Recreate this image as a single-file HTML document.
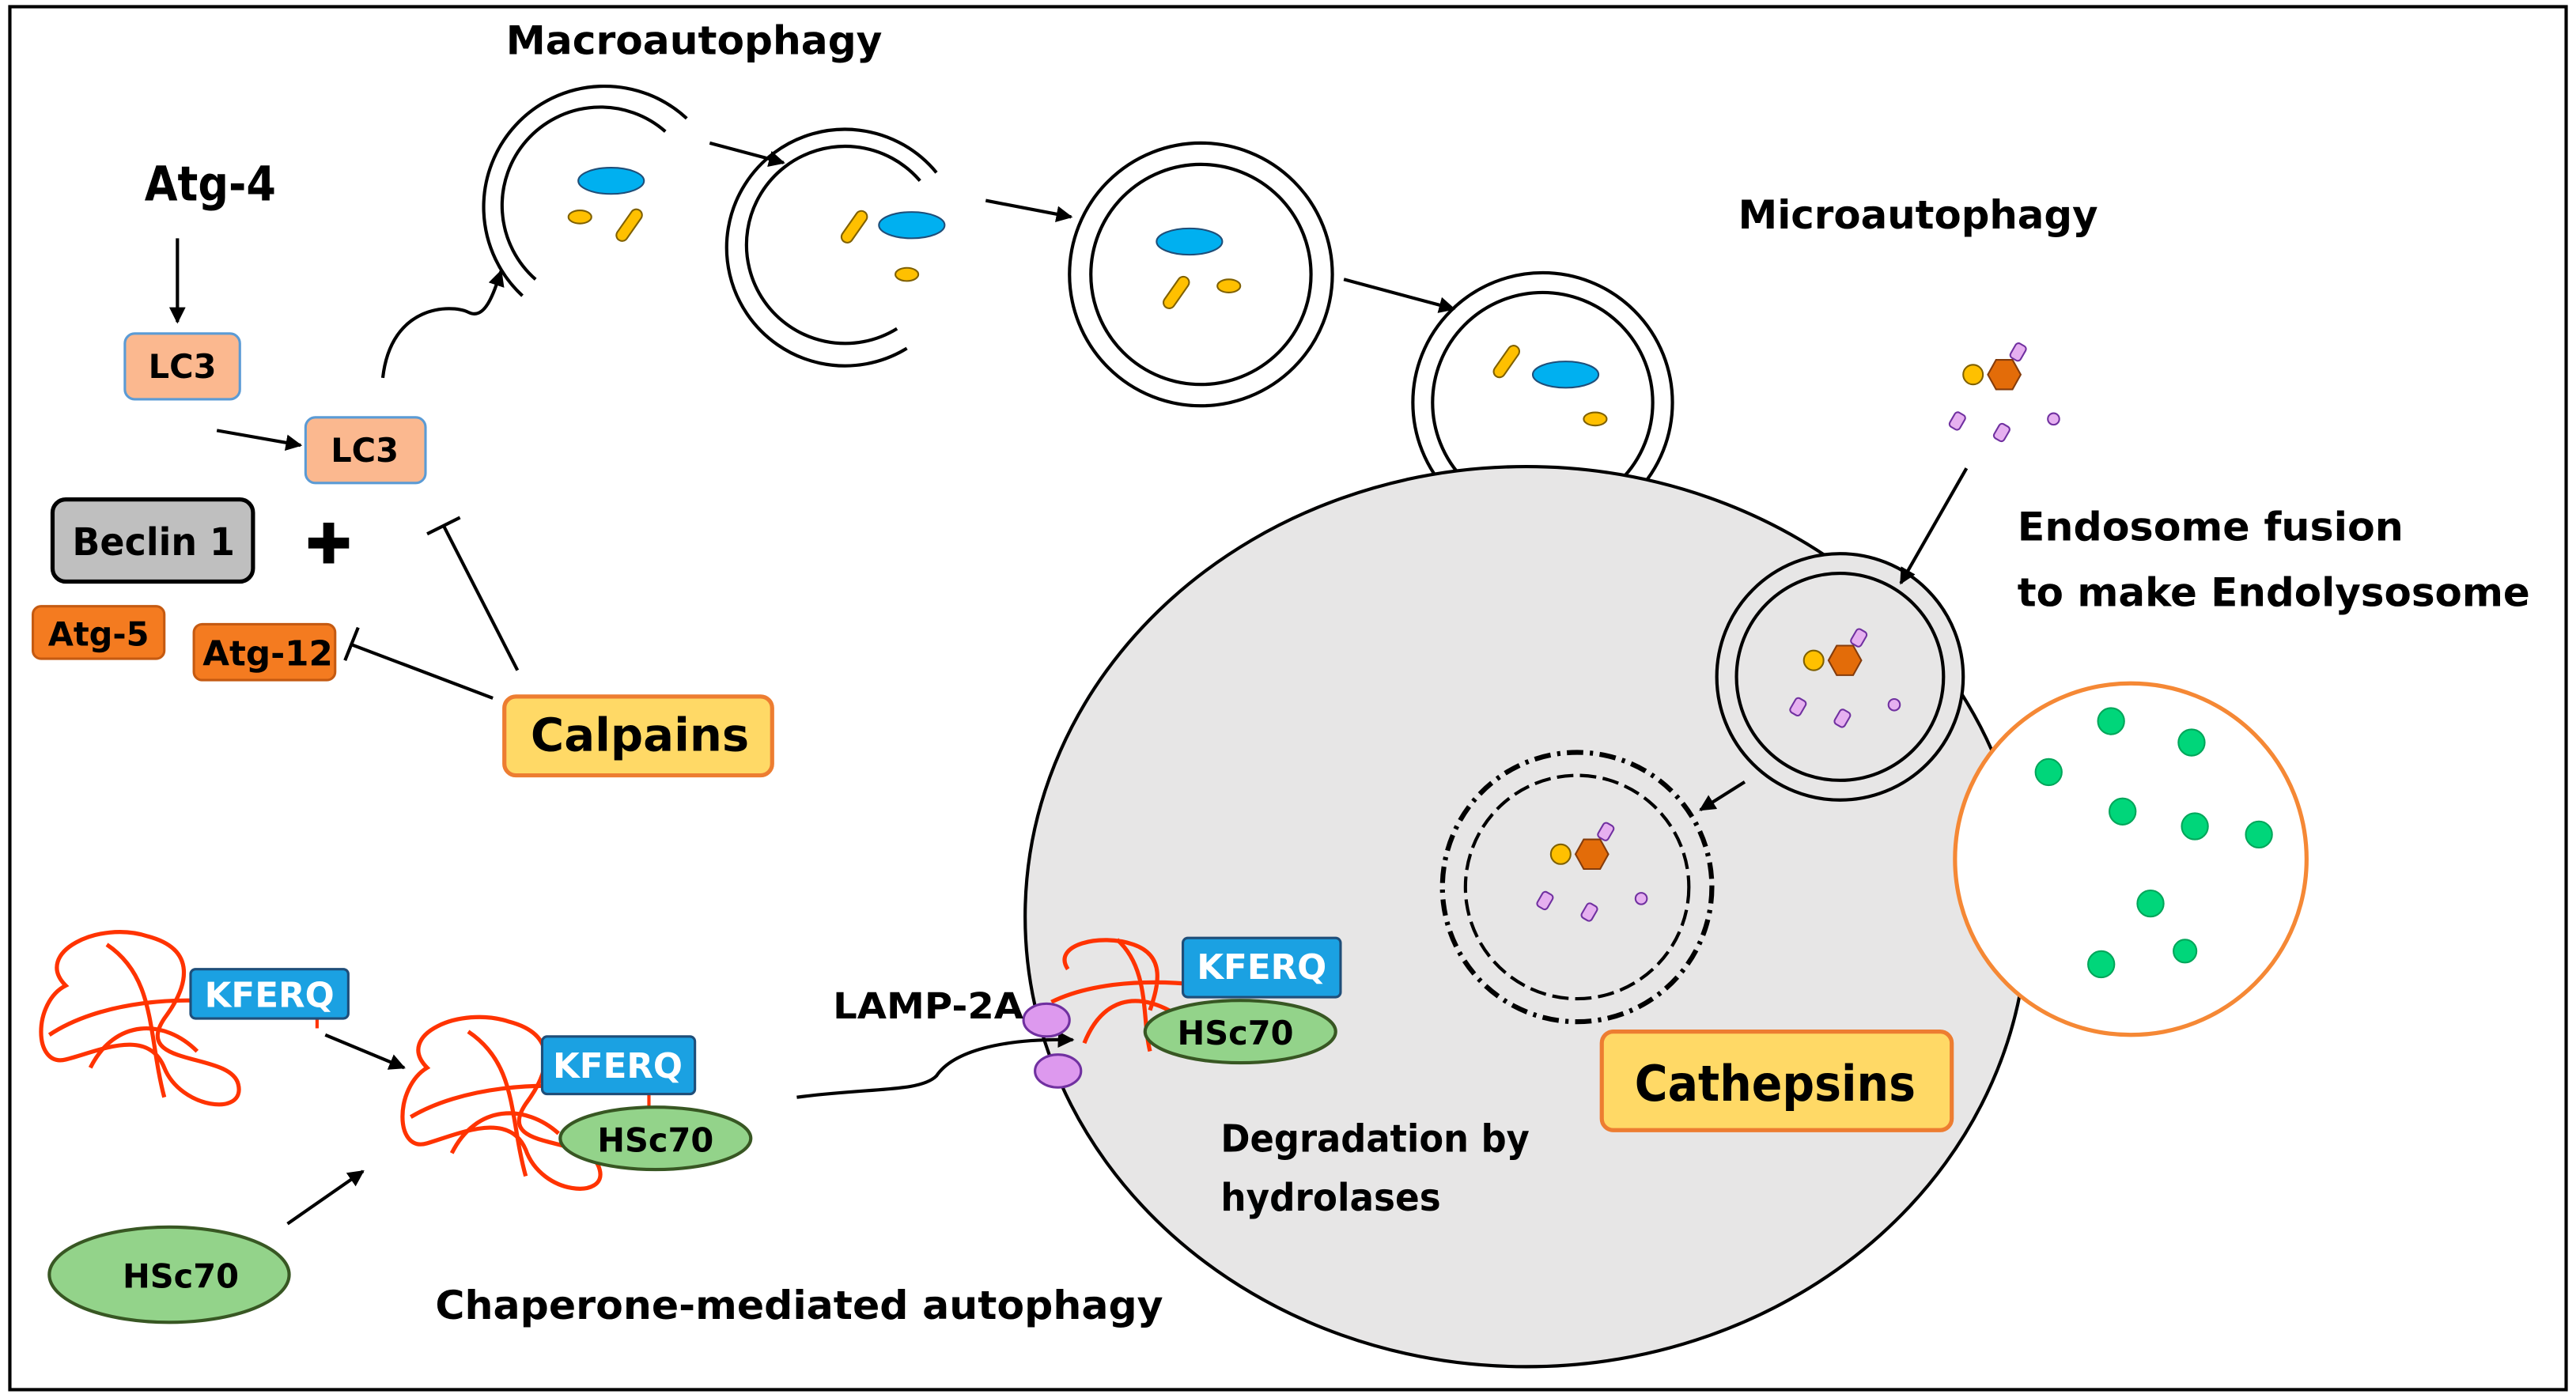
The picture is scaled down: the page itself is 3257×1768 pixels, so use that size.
<!DOCTYPE html>
<html><head><meta charset="utf-8"><style>
html,body{margin:0;padding:0;background:#fff}
svg{display:block}
text{font-family:"DejaVu Sans","Liberation Sans",sans-serif;font-weight:bold}
</style></head><body>
<svg width="3257" height="1768" viewBox="0 0 1568 851" xmlns="http://www.w3.org/2000/svg">
<defs>
<marker id="ar" markerWidth="10" markerHeight="10" refX="9" refY="5" orient="auto" markerUnits="userSpaceOnUse"><path d="M0,0 L10,5 L0,10 z" fill="#000"/></marker>
<g id="pg">
<circle cx="0" cy="0" r="6" fill="#ffc000" stroke="#7f6000"/>
<polygon points="14,2 24,2 29,11 24,20 14,20 9,11" transform="translate(0,-11)" fill="#e36c09" stroke="#843c0c"/>
<rect x="-3" y="-5" width="7" height="10" rx="2" fill="#e6b0f0" stroke="#7030a0" transform="translate(27,-14) rotate(30)"/>
<rect x="-3" y="-5" width="7" height="10" rx="2" fill="#e6b0f0" stroke="#7030a0" transform="translate(-10,28) rotate(30)"/>
<rect x="-3" y="-5" width="7" height="10" rx="2" fill="#e6b0f0" stroke="#7030a0" transform="translate(17,35) rotate(30)"/>
<circle cx="49" cy="27" r="3.5" fill="#e6b0f0" stroke="#7030a0"/>
</g>
</defs>
<rect x="6" y="4" width="1556" height="842" fill="#fff" stroke="#000" stroke-width="2"/>

<text x="308" y="33" font-size="24" textLength="229" lengthAdjust="spacingAndGlyphs">Macroautophagy</text>
<text x="88" y="122" font-size="29" textLength="80" lengthAdjust="spacingAndGlyphs">Atg-4</text>
<line x1="108" y1="145" x2="108" y2="196" stroke="#000" stroke-width="2" marker-end="url(#ar)"/>
<rect x="76" y="203" width="70" height="40" rx="6" fill="#fbb88f" stroke="#5b9bd5" stroke-width="1.5"/>
<text x="111" y="230" font-size="20" text-anchor="middle" font-weight="normal">LC3</text>
<line x1="132" y1="262" x2="183" y2="271" stroke="#000" stroke-width="2" marker-end="url(#ar)"/>
<rect x="186" y="254" width="73" height="40" rx="6" fill="#fbb88f" stroke="#5b9bd5" stroke-width="1.5"/>
<text x="222" y="281" font-size="20" text-anchor="middle" font-weight="normal">LC3</text>
<rect x="32" y="304" width="122" height="50" rx="8" fill="#bfbfbf" stroke="#000" stroke-width="2.5"/>
<text x="44" y="338" font-size="23" textLength="99" lengthAdjust="spacingAndGlyphs">Beclin 1</text>
<text x="200" y="343" font-size="34" text-anchor="middle">✚</text>
<rect x="20" y="369" width="80" height="32" rx="5" fill="#f47b20" stroke="#c55a11" stroke-width="1.5"/>
<text x="60" y="393" font-size="20" text-anchor="middle">Atg-5</text>
<rect x="118" y="380" width="86" height="34" rx="5" fill="#f47b20" stroke="#c55a11" stroke-width="1.5"/>
<text x="163" y="405" font-size="21" text-anchor="middle">Atg-12</text>
<line x1="315" y1="408" x2="270" y2="320" stroke="#000" stroke-width="2"/>
<line x1="260" y1="325" x2="280" y2="315" stroke="#000" stroke-width="2"/>
<line x1="300" y1="425" x2="213" y2="392" stroke="#000" stroke-width="2"/>
<line x1="218" y1="382" x2="210" y2="402" stroke="#000" stroke-width="2"/>
<rect x="307" y="424" width="163" height="48" rx="7" fill="#ffd966" stroke="#ed7d31" stroke-width="2.5"/>
<text x="323" y="457" font-size="28" textLength="133" lengthAdjust="spacingAndGlyphs">Calpains</text>
<path d="M233,230 C238,185 275,185 285,190 C295,195 300,180 305,165" fill="none" stroke="#000" stroke-width="2" marker-end="url(#ar)"/>

<g fill="none" stroke="#000" stroke-width="2">
<path d="M418,72 A62,62 0 1 0 318,180"/>
<path d="M405,80 A52,52 0 1 0 326,170"/>
<path d="M570,105 A72,72 0 1 0 552,212"/>
<path d="M560,110 A60,60 0 1 0 546,200"/>
<circle cx="731" cy="167" r="80"/><circle cx="731" cy="167" r="67"/>
<circle cx="939" cy="245" r="79"/><circle cx="939" cy="245" r="67"/>
</g>
<line x1="432" y1="87" x2="477" y2="99" stroke="#000" stroke-width="2" marker-end="url(#ar)"/>
<line x1="600" y1="122" x2="652" y2="132" stroke="#000" stroke-width="2" marker-end="url(#ar)"/>
<line x1="818" y1="170" x2="885" y2="188" stroke="#000" stroke-width="2" marker-end="url(#ar)"/>
<g fill="#00b0f0" stroke="#1f4e79" stroke-width="1">
<ellipse cx="372" cy="110" rx="20" ry="8"/>
<ellipse cx="555" cy="137" rx="20" ry="8"/>
<ellipse cx="724" cy="147" rx="20" ry="8"/>
<ellipse cx="953" cy="228" rx="20" ry="8"/>
</g>
<g fill="#ffc000" stroke="#7f6000" stroke-width="1">
<ellipse cx="353" cy="132" rx="7" ry="4"/>
<rect x="-3.5" y="-11" width="7" height="22" rx="3.5" transform="translate(383,137) rotate(35)"/>
<rect x="-3.5" y="-11" width="7" height="22" rx="3.5" transform="translate(520,138) rotate(35)"/>
<ellipse cx="552" cy="167" rx="7" ry="4"/>
<rect x="-3.5" y="-11" width="7" height="22" rx="3.5" transform="translate(716,178) rotate(35)"/>
<ellipse cx="748" cy="174" rx="7" ry="4"/>
<rect x="-3.5" y="-11" width="7" height="22" rx="3.5" transform="translate(917,220) rotate(35)"/>
<ellipse cx="971" cy="255" rx="7" ry="4"/>
</g>

<ellipse cx="929" cy="558" rx="305" ry="274" fill="#e7e6e6" stroke="#000" stroke-width="2"/>
<circle cx="1297" cy="523" r="107" fill="#fff" stroke="#f58835" stroke-width="2.5"/>
<g fill="#00d67a" stroke="#00a65a" stroke-width="1">
<circle cx="1285" cy="439" r="8"/><circle cx="1334" cy="452" r="8"/><circle cx="1247" cy="470" r="8"/>
<circle cx="1292" cy="494" r="8"/><circle cx="1336" cy="503" r="8"/><circle cx="1375" cy="508" r="8"/>
<circle cx="1309" cy="550" r="8"/><circle cx="1279" cy="587" r="8"/><circle cx="1330" cy="579" r="7"/>
</g>
<circle cx="1120" cy="412" r="75" fill="#e7e6e6" stroke="#000" stroke-width="2"/>
<circle cx="1120" cy="412" r="63" fill="#e7e6e6" stroke="#000" stroke-width="2"/>
<circle cx="960" cy="540" r="82" fill="none" stroke="#000" stroke-width="3" stroke-dasharray="10,4,2,4"/>
<circle cx="960" cy="540" r="68" fill="none" stroke="#000" stroke-width="2" stroke-dasharray="10,4"/>

<use href="#pg" x="1201" y="228"/>
<use href="#pg" x="1104" y="402"/>
<use href="#pg" x="950" y="520"/>

<text x="1058" y="139" font-size="24" textLength="219" lengthAdjust="spacingAndGlyphs">Microautophagy</text>
<line x1="1197" y1="285" x2="1157" y2="355" stroke="#000" stroke-width="2" marker-end="url(#ar)"/>
<text x="1228" y="329" font-size="24" textLength="235" lengthAdjust="spacingAndGlyphs">Endosome  fusion</text>
<text x="1228" y="369" font-size="24" textLength="312" lengthAdjust="spacingAndGlyphs">to make Endolysosome</text>
<line x1="1062" y1="476" x2="1035" y2="493" stroke="#000" stroke-width="2" marker-end="url(#ar)"/>
<rect x="975" y="628" width="213" height="60" rx="7" fill="#ffd966" stroke="#ed7d31" stroke-width="2.5"/>
<text x="995" y="670" font-size="30" textLength="171" lengthAdjust="spacingAndGlyphs">Cathepsins</text>
<text x="743" y="701" font-size="23" textLength="188" lengthAdjust="spacingAndGlyphs">Degradation by</text>
<text x="743" y="737" font-size="23" textLength="134" lengthAdjust="spacingAndGlyphs">hydrolases</text>

<g fill="none" stroke="#ff3300" stroke-width="2.5">
<path d="M40,600 C20,580 60,560 90,570 C120,578 115,600 100,620 C80,650 140,640 145,660 C150,680 110,675 100,650 C90,625 60,640 40,645 C20,650 20,610 40,600 Z"/>
<path d="M30,630 C60,610 110,605 150,612 M55,650 C70,620 100,620 120,640 M65,575 C95,595 90,630 100,668"/>
<path d="M260,650 C240,630 280,612 310,622 C340,630 335,652 320,672 C300,702 360,690 365,712 C370,730 330,728 320,700 C310,676 280,690 260,696 C240,702 240,662 260,650 Z"/>
<path d="M250,680 C280,662 330,657 370,664 M275,702 C290,672 320,672 340,690 M285,628 C315,648 310,680 320,716"/>
<path d="M650,590 C640,575 670,568 690,575 C710,582 705,600 700,615 M640,610 C670,595 720,595 760,605 M660,635 C670,610 690,600 720,620 M680,572 C700,590 695,620 700,640"/>
</g>
<line x1="193" y1="618" x2="193" y2="626" stroke="#ff3300" stroke-width="2"/>
<line x1="395" y1="665" x2="395" y2="675" stroke="#ff3300" stroke-width="2"/>
<g fill="#1ba1e2" stroke="#1f4e79" stroke-width="1.5">
<rect x="116" y="590" width="96" height="30" rx="3"/>
<rect x="330" y="631" width="93" height="35" rx="3"/>
<rect x="720" y="571" width="96" height="36" rx="3"/>
</g>
<text x="164" y="613" font-size="21" text-anchor="middle" fill="#fff">KFERQ</text>
<text x="376" y="656" font-size="21" text-anchor="middle" fill="#fff">KFERQ</text>
<text x="768" y="596" font-size="21" text-anchor="middle" fill="#fff">KFERQ</text>
<g fill="#93d38a" stroke="#385723" stroke-width="2">
<ellipse cx="399" cy="693" rx="58" ry="19"/>
<ellipse cx="755" cy="628" rx="58" ry="19"/>
<ellipse cx="103" cy="776" rx="73" ry="29"/>
</g>
<text x="399" y="701" font-size="20" text-anchor="middle">HSc70</text>
<text x="752" y="636" font-size="20" text-anchor="middle">HSc70</text>
<text x="110" y="784" font-size="20" text-anchor="middle">HSc70</text>
<line x1="198" y1="630" x2="246" y2="650" stroke="#000" stroke-width="2" marker-end="url(#ar)"/>
<line x1="175" y1="745" x2="221" y2="713" stroke="#000" stroke-width="2" marker-end="url(#ar)"/>
<path d="M485,668 C530,662 560,665 570,655 C580,640 610,632 653,633" fill="none" stroke="#000" stroke-width="2" marker-end="url(#ar)"/>
<ellipse cx="637" cy="621" rx="14" ry="10" fill="#dd99ee" stroke="#7030a0" stroke-width="1.5"/>
<ellipse cx="644" cy="652" rx="14" ry="10" fill="#dd99ee" stroke="#7030a0" stroke-width="1.5"/>
<text x="507" y="620" font-size="22" font-weight="normal" textLength="116" lengthAdjust="spacingAndGlyphs">LAMP-2A</text>
<text x="265" y="803" font-size="24" textLength="443" lengthAdjust="spacingAndGlyphs">Chaperone-mediated  autophagy</text>
</svg>
</body></html>
